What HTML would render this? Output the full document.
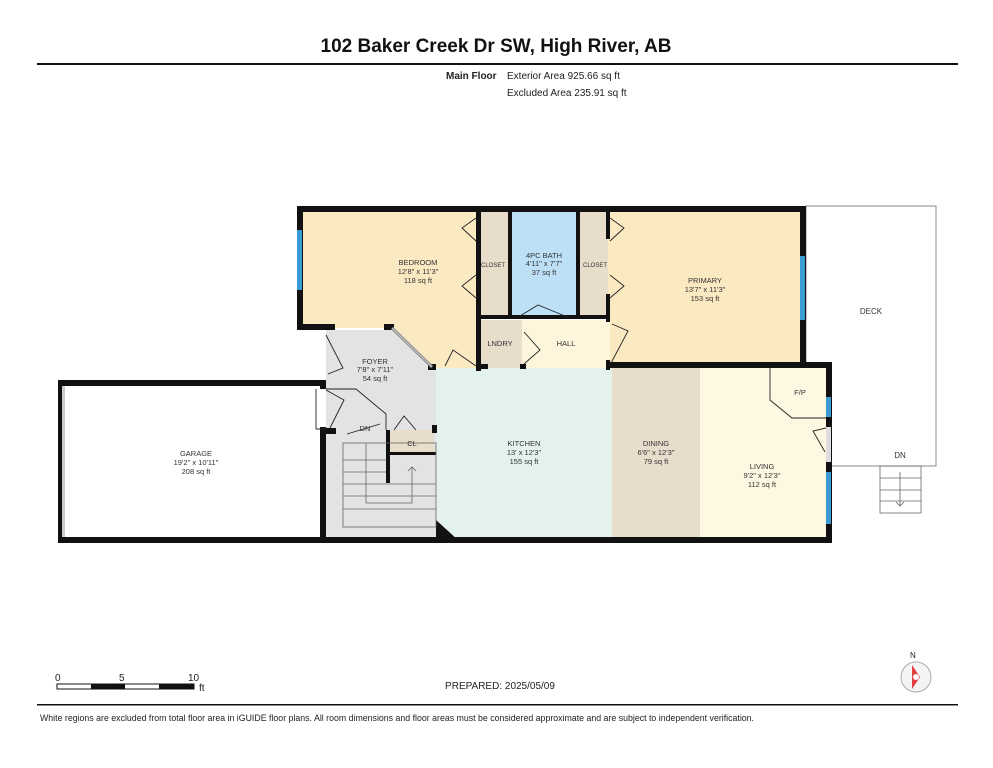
<!DOCTYPE html>
<html><head><meta charset="utf-8"><style>
body{margin:0;background:#fff;}
svg{display:block;font-family:"Liberation Sans",Arial,sans-serif;}
</style></head><body>
<svg width="993" height="768" viewBox="0 0 993 768" xmlns="http://www.w3.org/2000/svg">
<rect width="993" height="768" fill="#fff"/>
<text x="496" y="52" font-size="19" font-weight="bold" text-anchor="middle" fill="#111">102 Baker Creek Dr SW, High River, AB</text>
<rect x="37" y="63" width="921" height="2" fill="#111"/>
<text x="446" y="79" font-size="10" font-weight="bold" fill="#222">Main Floor</text>
<text x="507" y="79" font-size="10" fill="#222">Exterior Area 925.66 sq ft</text>
<text x="507" y="96" font-size="10" fill="#222">Excluded Area 235.91 sq ft</text>

<!-- deck -->
<rect x="806" y="206" width="130" height="260" fill="#fff" stroke="#888" stroke-width="1"/>
<text x="871" y="314" font-size="8" text-anchor="middle" fill="#333">DECK</text>
<text x="900" y="458" font-size="8" text-anchor="middle" fill="#333">DN</text>
<g stroke="#666" fill="none" stroke-width="0.8">
<rect x="880" y="466" width="41" height="47"/>
<line x1="880" y1="478" x2="921" y2="478"/><line x1="880" y1="490" x2="921" y2="490"/><line x1="880" y1="501" x2="921" y2="501"/>
<line x1="900" y1="472" x2="900" y2="506"/><path d="M896 502 L900 506 L904 502"/>
</g>

<!-- room fills -->
<polygon points="300,328 393,328 433,368 480,368 480,209 300,209" fill="#fbe9c2"/>
<rect x="480" y="209" width="30" height="110" fill="#e8dccb"/>
<rect x="510" y="209" width="68" height="108" fill="#bde0f7"/>
<rect x="580" y="209" width="30" height="110" fill="#e8dccb"/>
<rect x="608" y="209" width="194" height="156" fill="#fbe9c2"/>
<rect x="480" y="320" width="42" height="48" fill="#e8dccb"/>
<rect x="522" y="320" width="88" height="48" fill="#fdf6dd"/>
<polygon points="326,330 393,330 433,368 436,368 436,540 326,540" fill="#e3e3e3"/>
<polygon points="436,368 612,368 612,540 458,540 436,520" fill="#e4f2ee"/>
<rect x="612" y="368" width="88" height="172" fill="#e8dccb"/>
<rect x="700" y="368" width="128" height="172" fill="#fef8e2"/>
<rect x="62" y="384" width="262" height="156" fill="#fff"/>
<rect x="390" y="430" width="44" height="23" fill="#e8dccb"/>

<!-- walls -->
<g fill="#111">
<rect x="297" y="206" width="509" height="6"/>
<rect x="297" y="206" width="6" height="123"/>
<rect x="297" y="324" width="38" height="6"/>
<rect x="384" y="324" width="10" height="6"/>
<rect x="800" y="206" width="6" height="161"/>
<rect x="608" y="362" width="224" height="6"/>
<rect x="826" y="362" width="6" height="181"/>
<rect x="325" y="537" width="507" height="6"/>
<rect x="58" y="380" width="268" height="6"/>
<rect x="58" y="380" width="5" height="163"/>
<rect x="58" y="537" width="268" height="6"/>
<rect x="320" y="380" width="6" height="9"/>
<rect x="320" y="427" width="6" height="116"/>
<rect x="476" y="209" width="5" height="162"/>
<rect x="508" y="209" width="4" height="108"/>
<rect x="576" y="209" width="4" height="108"/>
<rect x="606" y="209" width="4" height="30"/>
<rect x="606" y="294" width="4" height="28"/>
<rect x="476" y="315" width="134" height="4"/>
<rect x="606" y="360" width="4" height="10"/>
<rect x="476" y="364" width="12" height="5"/>
<rect x="520" y="364" width="6" height="5"/>
<rect x="432" y="425" width="5" height="8"/>
<rect x="386" y="430" width="4" height="53"/>
<rect x="390" y="452" width="46" height="3"/>
<rect x="326" y="428" width="10" height="6"/>
<rect x="428" y="364" width="8" height="6"/>
<polygon points="436,520 436,540 458,540"/>
</g>
<line x1="392" y1="328" x2="432" y2="367" stroke="#888" stroke-width="3"/>
<line x1="392" y1="328" x2="432" y2="367" stroke="#ccc" stroke-width="1"/>
<!-- windows -->
<g fill="#3a9bd2">
<rect x="297" y="230" width="5" height="60"/>
<rect x="800" y="256" width="5" height="64"/>
<rect x="826" y="397" width="5" height="20"/>
<rect x="826" y="472" width="5" height="52"/>
</g>
<rect x="62" y="386" width="3" height="151" fill="#ccc"/>
<rect x="826" y="427" width="5" height="35" fill="#ddd"/>

<!-- door swings & details -->
<g fill="none" stroke="#222" stroke-width="0.9">
<path d="M476 218 L462 228 L476 241"/><path d="M476 275 L462 286 L476 298"/>
<path d="M610 218 L624 228 L610 241"/><path d="M610 275 L624 286 L610 298"/>
<path d="M520 316 L538 305 L570 318"/>
<path d="M524 364 L540 350 L524 332"/>
<path d="M610 365 L628 331 L612 324"/>
<path d="M476 366 L453 350 L445 366"/>
<path d="M326 335 L343 368 L328 374"/>
<path d="M326 390 L344 400 L330 428"/>
<path d="M416 430 L404 416 L394 430"/>
<path d="M826 428 L813 431 L825 452"/>
<path d="M770 368 L770 400 L792 418 L826 418"/>
<path d="M326 389 L356 389 L386 414 L386 430"/>
<path d="M316 389 L316 429 L326 429"/>
<path d="M347 434 L380 424"/>
</g>
<g stroke="#666" fill="none" stroke-width="0.8">
<rect x="343" y="443" width="93" height="84"/>
<line x1="343" y1="460" x2="386" y2="460"/><line x1="343" y1="472" x2="386" y2="472"/><line x1="343" y1="484" x2="436" y2="484"/><line x1="343" y1="496" x2="436" y2="496"/><line x1="343" y1="509" x2="436" y2="509"/>
<path d="M366 443 L366 503 L412 503 L412 467 M408 471 L412 467 L416 471"/>
</g>

<!-- labels -->
<g font-size="7.5" text-anchor="middle" fill="#333">
<text x="418" y="265">BEDROOM</text><text x="418" y="274">12'8" x 11'3"</text><text x="418" y="283">118 sq ft</text>
<text x="493" y="267" font-size="6">CLOSET</text>
<text x="595" y="267" font-size="6">CLOSET</text>
<text x="544" y="258">4PC BATH</text><text x="544" y="266">4'11" x 7'7"</text><text x="544" y="275">37 sq ft</text>
<text x="705" y="283">PRIMARY</text><text x="705" y="292">13'7" x 11'3"</text><text x="705" y="301">153 sq ft</text>
<text x="500" y="346">LNDRY</text><text x="566" y="346">HALL</text>
<text x="375" y="364">FOYER</text><text x="375" y="372">7'8" x 7'11"</text><text x="375" y="381">54 sq ft</text>
<text x="365" y="431">DN</text><text x="412" y="446">CL</text>
<text x="524" y="446">KITCHEN</text><text x="524" y="455">13' x 12'3"</text><text x="524" y="464">155 sq ft</text>
<text x="656" y="446">DINING</text><text x="656" y="455">6'6" x 12'3"</text><text x="656" y="464">79 sq ft</text>
<text x="762" y="469">LIVING</text><text x="762" y="478">9'2" x 12'3"</text><text x="762" y="487">112 sq ft</text>
<text x="800" y="395">F/P</text>
<text x="196" y="456">GARAGE</text><text x="196" y="465">19'2" x 10'11"</text><text x="196" y="474">208 sq ft</text>
</g>

<!-- scale bar -->
<g font-size="10" fill="#222">
<text x="55" y="681">0</text><text x="119" y="681">5</text><text x="188" y="681">10</text><text x="199" y="691">ft</text>
<rect x="57" y="684" width="137" height="5" fill="#fff" stroke="#111" stroke-width="1"/>
<rect x="91" y="684" width="34" height="5" fill="#111"/><rect x="159" y="684" width="35" height="5" fill="#111"/>
</g>
<text x="500" y="689" font-size="10" text-anchor="middle" fill="#222">PREPARED: 2025/05/09</text>
<!-- compass -->
<circle cx="916" cy="677" r="15" fill="#f4f4f4" stroke="#aaa"/>
<text x="910" y="658" font-size="8" fill="#222">N</text>
<polygon points="912,665 920,677 912,689" fill="#e04040"/>
<polygon points="912,665 916,677 920,689" fill="#3a7bd5" opacity="0.8"/>
<circle cx="916" cy="677" r="3" fill="#fff"/>
<rect x="37" y="704" width="921" height="1.5" fill="#111"/>
<text x="40" y="721" font-size="9" fill="#222" textLength="714" lengthAdjust="spacingAndGlyphs">White regions are excluded from total floor area in iGUIDE floor plans. All room dimensions and floor areas must be considered approximate and are subject to independent verification.</text>
</svg>
</body></html>
